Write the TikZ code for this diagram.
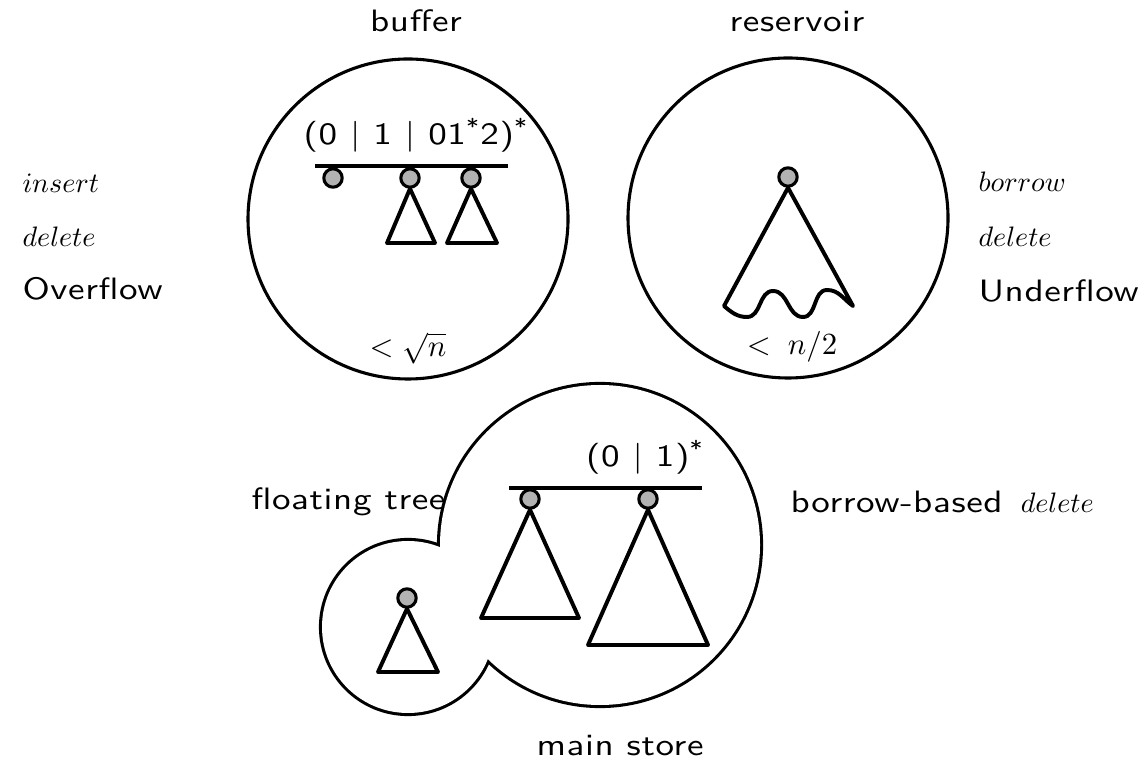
\documentclass[tikz,border=0pt]{standalone}
\usepackage{fontspec}
\setsansfont{lmsans10-regular.otf}[Scale=1.1, FakeStretch=1.2, LetterSpace=2]
\usepackage{tikz}

\definecolor{rootgray}{gray}{0.70}

\begin{document}
\begin{tikzpicture}[x=1.25mm, y=-1.25mm, line join=round]

% Styles
\tikzset{
  pool/.style={line width=1.1pt},
  root/.style={circle, draw, fill=rootgray, line width=1.1pt, inner sep=0pt, minimum size=2.3mm},
  tree/.style={line width=1.4pt},
  level/.style={line width=1.4pt},
  word/.style={font=\sffamily, anchor=base, inner sep=0pt},
  op/.style={anchor=base west, inner sep=0pt},
  bound/.style={anchor=base, inner sep=0pt, font=\fontsize{11}{13}\selectfont}
}

\useasboundingbox (0,0) rectangle (114.2,76.1);

% Coordinates
\coordinate (buf) at (40.8,21.9);
\coordinate (res) at (78.8,21.8);
\coordinate (store) at (60.0,54.5);
\coordinate (float) at (40.8,62.7);

% Buffer and reservoir
\draw[pool] (buf) circle[radius=16];
\draw[pool] (res) circle[radius=16];

% Main store with the floating tree attached (outline of the union)
\draw[line width=2.2pt] (store) circle[radius=16] (float) circle[radius=8.6];
\fill[white] (store) circle[radius=16] (float) circle[radius=8.6];

% Titles
\node[word] (bufname) at (41.6,3.2) {buffer};
\node[word] (resname) at (79.7,3.2) {reservoir};
\node[word] (storename) at (62.0,75.5) {main store};
\node[word, anchor=base west] (floatname) at (25.1,51.0) {floating tree};
\node[op] (bdel) at (79.0,51.3) {\sffamily borrow-based \,$delete$};

% Operations
\node[op] (ins) at (2.2,19.3) {$insert$};
\node[op] (del) at (2.2,24.7) {$delete$};
\node[op, font=\sffamily] (ovf) at (2.2,30.0) {Overflow};
\node[op] (bor) at (97.8,19.2) {$borrow$};
\node[op] (rdel) at (97.8,24.7) {$delete$};
\node[op, font=\sffamily] (udf) at (97.8,30.2) {Underflow};

% Buffer contents
\node[word] (bufword) at (41.6,14.5) {(0 | 1 | 01\textsuperscript{*}2)\textsuperscript{*}};
\draw[level] (31.5,16.6) -- (50.8,16.6);
\node[root] (b1) at (33.3,17.8) {};
\node[root] (b2) at (41.0,17.8) {};
\node[root] (b3) at (47.1,17.8) {};
\draw[tree] (b2.south) -- (38.7,24.3) -- (43.5,24.3) -- cycle;
\draw[tree] (b3.south) -- (44.7,24.3) -- (49.7,24.3) -- cycle;
\node[bound] (bufsize) at (40.8,35.7) {$<\sqrt{n}$};

% Reservoir contents
\node[root] (r1) at (78.8,17.7) {};
\draw[tree] (r1.south) -- (72.4,30.6)
  to[out=-40, in=180] (74.7,31.7)
  to[out=0, in=180] (77.3,29.1)
  to[out=0, in=180] (80.3,31.7)
  to[out=0, in=180] (82.7,29.0)
  to[out=0, in=145] (85.3,30.6) -- cycle;
\node[bound] (ressize) at (79.2,35.5) {$<\;n/2$};

% Main store contents
\node[word] (storeword) at (64.5,46.7) {(0 | 1)\textsuperscript{*}};
\draw[level] (50.9,48.8) -- (70.2,48.8);
\node[root] (s1) at (53.0,49.9) {};
\node[root] (s2) at (64.8,49.9) {};
\draw[tree] (s1.south) -- (48.1,61.8) -- (57.9,61.8) -- cycle;
\draw[tree] (s2.south) -- (58.8,64.5) -- (70.8,64.5) -- cycle;

% Floating tree
\node[root] (f1) at (40.7,59.8) {};
\draw[tree] (f1.south) -- (37.8,67.2) -- (43.8,67.2) -- cycle;

\end{tikzpicture}
\end{document}
